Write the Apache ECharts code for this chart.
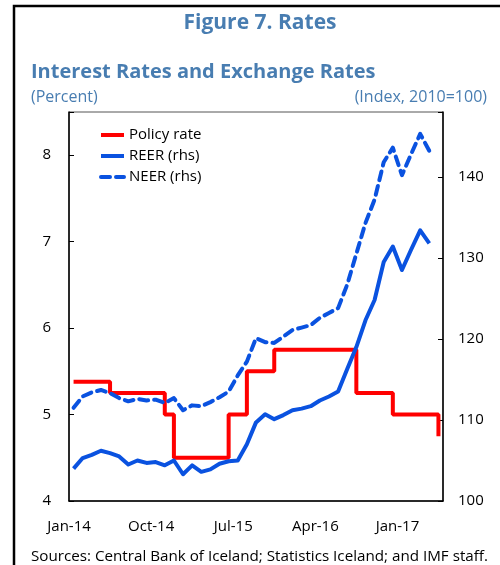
<!DOCTYPE html>
<html>
<head>
<meta charset="utf-8">
<script src="https://cdn.jsdelivr.net/npm/echarts@6/dist/echarts.min.js"></script>
<style>
  html, body { margin: 0; padding: 0; background: #fff; }
  #chart { width: 500px; height: 565px; }
</style>
</head>
<body>
<div id="chart"></div>
<script>
// monthly data, Jan-14 .. May-17
const monthNames = ['Jan', 'Feb', 'Mar', 'Apr', 'May', 'Jun', 'Jul', 'Aug', 'Sep', 'Oct', 'Nov', 'Dec']
const months = []
for (let y = 14; y <= 17; y++) {
  for (let m = 0; m < 12; m++) {
    if (y === 17 && m > 4) break
    months.push(monthNames[m] + '-' + y)
  }
}

// percent (lhs)
const policyRate = [
  5.38, 5.38, 5.38, 5.38, 5.25, 5.25, 5.25, 5.25, 5.25, 5.25,
  5.0, 4.5, 4.5, 4.5, 4.5, 4.5, 4.5, 5.0, 5.0, 5.5,
  5.5, 5.5, 5.75, 5.75, 5.75, 5.75, 5.75, 5.75, 5.75, 5.75,
  5.75, 5.25, 5.25, 5.25, 5.25, 5.0, 5.0, 5.0, 5.0, 5.0,
  4.75
]
// index 2010=100 (rhs)
const reer = [
  104.0, 105.3, 105.7, 106.2, 105.9, 105.5, 104.5, 105.0, 104.7, 104.8,
  104.4, 105.0, 103.3, 104.4, 103.6, 103.9, 104.6, 104.9, 105.0, 107.0,
  109.7, 110.7, 110.1, 110.6, 111.2, 111.4, 111.7, 112.4, 112.9, 113.5,
  116.3, 119.0, 122.3, 124.8, 129.5, 131.4, 128.5, 131.0, 133.4, 131.8
]
const neer = [
  111.5, 112.9, 113.4, 113.7, 113.3, 112.7, 112.3, 112.6, 112.4, 112.5,
  112.1, 112.7, 111.2, 111.8, 111.7, 112.2, 112.8, 113.5, 115.5, 117.2,
  120.1, 119.6, 119.5, 120.3, 121.1, 121.4, 121.7, 122.6, 123.2, 123.8,
  126.7, 130.5, 134.3, 137.2, 141.8, 143.6, 140.2, 142.8, 145.3, 143.2
]

const fontFamily = '"Open Sans", "Noto Sans", sans-serif'
const titleBlue = '#487db1'
const red = '#ff0000'
const blue = '#0a52e0'

let chart = echarts.init(document.getElementById('chart'))

let option = {
  animation: false,
  textStyle: { fontFamily: fontFamily },
  graphic: [
    {
      type: 'rect',
      shape: { x: 14, y: 6, width: 520, height: 620 },
      style: { fill: 'none', stroke: '#000', lineWidth: 2.5 }
    },
    {
      type: 'text', x: 260, y: 23,
      style: { text: 'Figure 7. Rates', fill: titleBlue, font: 'bold 21px ' + fontFamily, textAlign: 'center', textVerticalAlign: 'middle' }
    },
    {
      type: 'text', x: 31, y: 72,
      style: { text: 'Interest Rates and Exchange Rates', fill: titleBlue, font: 'bold 20px ' + fontFamily, textAlign: 'left', textVerticalAlign: 'middle' }
    },
    {
      type: 'text', x: 31, y: 97,
      style: { text: '(Percent)', fill: titleBlue, font: '16px ' + fontFamily, textAlign: 'left', textVerticalAlign: 'middle' }
    },
    {
      type: 'text', x: 487, y: 97,
      style: { text: '(Index, 2010=100)', fill: titleBlue, font: '16px ' + fontFamily, textAlign: 'right', textVerticalAlign: 'middle' }
    },
    {
      type: 'text', x: 31, y: 557,
      style: { text: 'Sources: Central Bank of Iceland; Statistics Iceland; and IMF staff.', fill: '#000', font: '15.2px ' + fontFamily, textAlign: 'left', textVerticalAlign: 'middle' }
    }
  ],
  legend: {
    orient: 'vertical',
    left: 94,
    top: 121,
    itemWidth: 23,
    itemHeight: 14,
    itemGap: 3,
    itemStyle: { opacity: 0 },
    lineStyle: { width: 4 },
    textStyle: { fontSize: 15, color: '#000', lineHeight: 18, fontFamily: fontFamily },
    data: ['Policy rate', 'REER (rhs)', 'NEER (rhs)']
  },
  grid: {
    left: 69, right: 57, top: 112, bottom: 64,
    show: true, borderColor: '#555', borderWidth: 1, backgroundColor: 'transparent'
  },
  xAxis: {
    type: 'category',
    data: months,
    boundaryGap: true,
    axisLine: { lineStyle: { color: '#000', width: 1.5 } },
    axisTick: {
      inside: true, length: 5, alignWithLabel: false,
      interval: function (i) { return i % 9 === 0 },
      lineStyle: { color: '#000' }
    },
    axisLabel: {
      interval: 8, margin: 18, fontSize: 15, color: '#000',
      padding: [0, 9, 0, 0]
    },
    splitLine: { show: false }
  },
  yAxis: [
    {
      type: 'value', min: 4, max: 8.5, interval: 1,
      axisLine: { show: true, lineStyle: { color: '#000', width: 1.5 } },
      axisTick: { show: true, inside: true, length: 5, lineStyle: { color: '#000' } },
      axisLabel: {
        margin: 18, fontSize: 15, color: '#000',
        formatter: function (v) { return v % 1 === 0 ? String(v) : '' }
      },
      splitLine: { show: false }
    },
    {
      type: 'value', min: 100, max: 148, interval: 10,
      axisLine: { show: true, lineStyle: { color: '#000', width: 1.5 } },
      axisTick: { show: true, inside: true, length: 5, lineStyle: { color: '#000' } },
      axisLabel: {
        margin: 15, fontSize: 15, color: '#000',
        formatter: function (v) { return v % 10 === 0 ? String(v) : '' }
      },
      splitLine: { show: false }
    }
  ],
  series: [
    {
      name: 'Policy rate',
      type: 'line',
      yAxisIndex: 0,
      step: 'end',
      data: policyRate,
      symbol: 'none',
      itemStyle: { color: red },
      lineStyle: { color: red, width: 4 }
    },
    {
      name: 'REER (rhs)',
      type: 'line',
      yAxisIndex: 1,
      data: reer,
      symbol: 'none',
      itemStyle: { color: blue },
      lineStyle: { color: blue, width: 4, join: 'round' }
    },
    {
      name: 'NEER (rhs)',
      type: 'line',
      yAxisIndex: 1,
      data: neer,
      symbol: 'none',
      itemStyle: { color: blue },
      lineStyle: { color: blue, width: 4, type: [9, 6], cap: 'round', join: 'round' }
    }
  ]
}

chart.setOption(option)
</script>
</body>
</html>
